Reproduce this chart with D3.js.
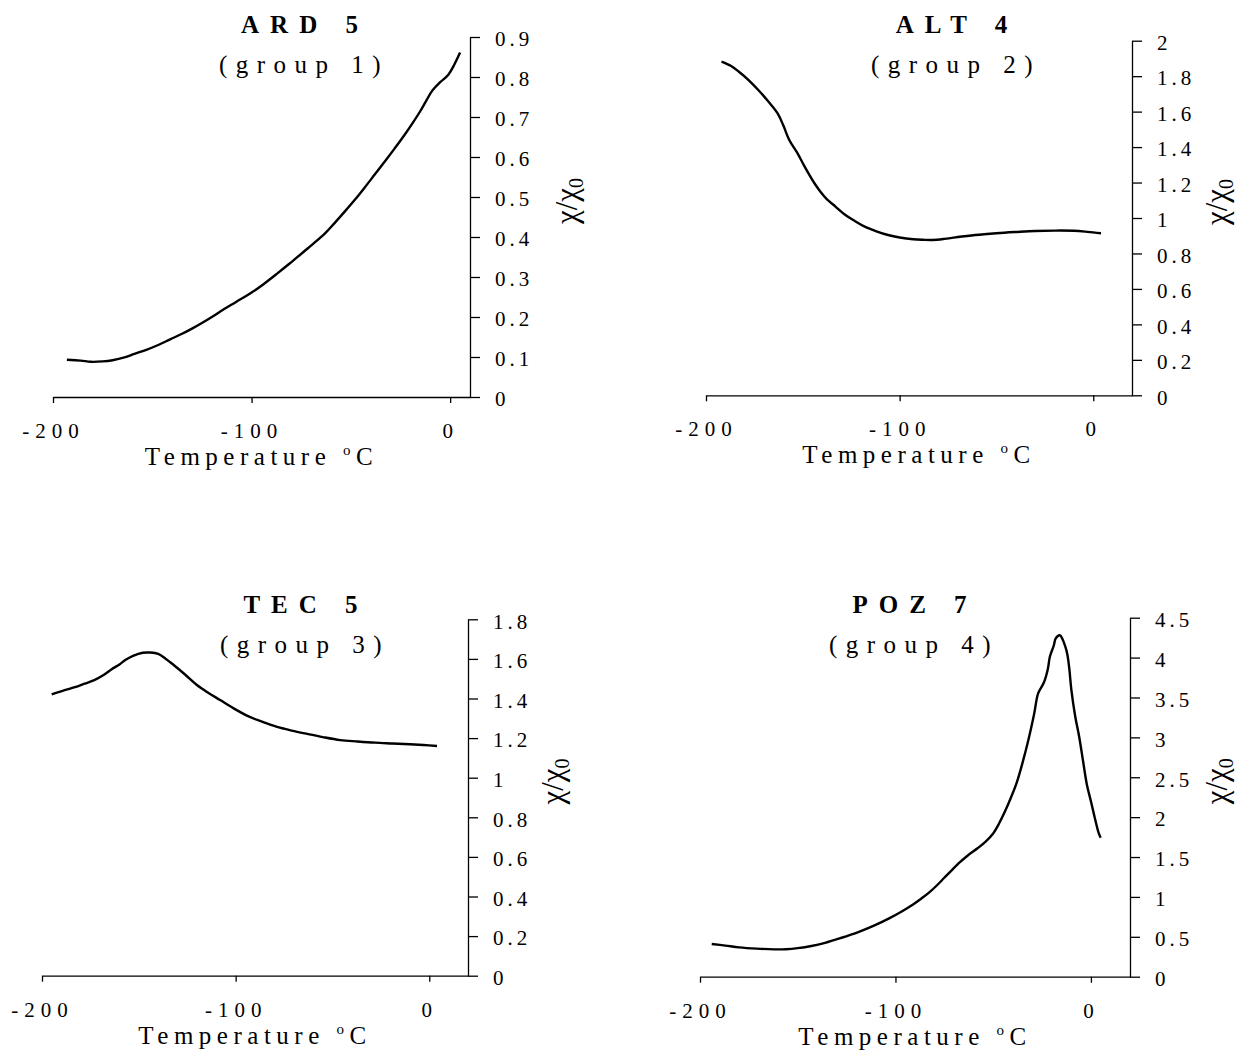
<!DOCTYPE html>
<html>
<head>
<meta charset="utf-8">
<script src="https://cdn.jsdelivr.net/npm/d3@7/dist/d3.min.js"></script>
<style>
  body { margin: 0; background: #fff; }
  svg { display: block; }
  text { font-family: "Liberation Serif", "Times New Roman", serif; fill: #000; }
  .domain, .tick line { stroke: #000; stroke-width: 1.3px; }
  .curve { fill: none; stroke: #000; stroke-width: 2.4px; stroke-linejoin: round; }
</style>
</head>
<body>
<svg id="chart" width="1241" height="1055"></svg>
<script>
// Susceptibility vs temperature curves.
const xTicks = [-200, -100, 0];

// ARD 5 (group 1)
const ard5Temp = [-193, -186, -181, -175, -170, -164, -159, -153, -147, -141, -135, -130, -125, -120, -115, -108, -100, -94, -87, -81, -75, -69, -63, -58, -53, -48, -43, -38, -33, -28, -23, -19, -15, -12, -9, -5, -1, 2, 5];
const ard5Chi  = [0.093, 0.091, 0.088, 0.089, 0.092, 0.099, 0.108, 0.118, 0.13, 0.144, 0.158, 0.171, 0.185, 0.2, 0.216, 0.237, 0.261, 0.282, 0.309, 0.333, 0.358, 0.383, 0.409, 0.436, 0.464, 0.493, 0.524, 0.556, 0.588, 0.621, 0.655, 0.684, 0.715, 0.741, 0.766, 0.787, 0.805, 0.83, 0.861];
const ard5Ticks = [0, 0.1, 0.2, 0.3, 0.4, 0.5, 0.6, 0.7, 0.8, 0.9];

// ALT 4 (group 2)
const alt4Temp = [-192, -187, -183, -178, -173, -168, -163, -160, -157, -153, -150, -147, -144, -141, -138, -133, -128, -123, -118, -112, -106, -100, -93, -88, -83, -77, -71, -61, -50, -40, -30, -20, -10, -3, 4];
const alt4Chi  = [1.882, 1.857, 1.825, 1.778, 1.722, 1.66, 1.59, 1.52, 1.44, 1.37, 1.309, 1.25, 1.196, 1.15, 1.111, 1.063, 1.017, 0.982, 0.951, 0.925, 0.904, 0.89, 0.88, 0.877, 0.876, 0.882, 0.891, 0.904, 0.914, 0.921, 0.927, 0.929, 0.928, 0.922, 0.914];
const alt4Ticks = [0, 0.2, 0.4, 0.6, 0.8, 1, 1.2, 1.4, 1.6, 1.8, 2];

// TEC 5 (group 3)
const tec5Temp = [-195, -189, -183, -178, -173, -168, -164, -160, -157, -153, -148, -144, -140, -136, -132, -126, -120, -114, -108, -101, -93, -86, -79, -71, -63, -55, -46, -37, -28, -19, -10, -3, 4];
const tec5Chi  = [1.421, 1.44, 1.457, 1.475, 1.493, 1.52, 1.548, 1.572, 1.594, 1.615, 1.631, 1.632, 1.625, 1.6, 1.569, 1.52, 1.468, 1.428, 1.392, 1.35, 1.308, 1.282, 1.258, 1.238, 1.221, 1.205, 1.19, 1.183, 1.177, 1.173, 1.169, 1.165, 1.16];
const tec5Ticks = [0, 0.2, 0.4, 0.6, 0.8, 1, 1.2, 1.4, 1.6, 1.8];

// POZ 7 (group 4)
const poz7Temp = [-194, -187, -180, -171, -162, -156, -150, -143, -136, -128, -119, -111, -103, -97, -91, -87, -83, -79, -75, -71, -67, -63, -58, -54, -50, -47, -44, -41, -38, -35, -32, -29, -27, -24, -22, -21, -19, -18, -16, -15, -13, -12, -11, -10, -8, -6, -4, -2, 0, 2, 4, 5];
const poz7Chi  = [0.41, 0.39, 0.368, 0.352, 0.343, 0.345, 0.358, 0.385, 0.425, 0.485, 0.56, 0.64, 0.735, 0.815, 0.905, 0.975, 1.05, 1.14, 1.24, 1.34, 1.435, 1.52, 1.61, 1.69, 1.795, 1.92, 2.07, 2.24, 2.43, 2.68, 2.967, 3.3, 3.552, 3.69, 3.86, 4.011, 4.15, 4.24, 4.28, 4.254, 4.13, 4.032, 3.85, 3.594, 3.259, 3.008, 2.7, 2.4, 2.2, 1.99, 1.8, 1.742];
const poz7Ticks = [0, 0.5, 1, 1.5, 2, 2.5, 3, 3.5, 4, 4.5];

const panels = [
  { title: 'ARD 5', group: '(group 1)', temp: ard5Temp, chi: ard5Chi, yTicks: ard5Ticks, xMax: 10,
    left: 53, right: 470, top: 37, bottom: 397, titleX: 305, titleY: 33, labelX: 577 },
  { title: 'ALT 4', group: '(group 2)', temp: alt4Temp, chi: alt4Chi, yTicks: alt4Ticks, xMax: 20,
    left: 706, right: 1132, top: 40.7, bottom: 395.3, titleX: 957, titleY: 33, labelX: 1227 },
  { title: 'TEC 5', group: '(group 3)', temp: tec5Temp, chi: tec5Chi, yTicks: tec5Ticks, xMax: 20,
    left: 42, right: 468, top: 619.3, bottom: 975.7, titleX: 306, titleY: 613, labelX: 563 },
  { title: 'POZ 7', group: '(group 4)', temp: poz7Temp, chi: poz7Chi, yTicks: poz7Ticks, xMax: 20,
    left: 700, right: 1130, top: 617.7, bottom: 976.7, titleX: 915, titleY: 613, labelX: 1227 }
];

const svg = d3.select('#chart');
// plain hyphen for negatives, as in the original
const fmtX = d => String(d);
const fmtY = d => String(+d.toFixed(1));

panels.forEach(p => {
  const yMax = p.yTicks[p.yTicks.length - 1];
  const x = d3.scaleLinear().domain([-200, p.xMax]).range([p.left, p.right]);
  const y = d3.scaleLinear().domain([0, yMax]).range([p.bottom, p.top]);
  const g = svg.append('g');

  // x axis
  const xa = g.append('g')
    .attr('transform', `translate(0,${p.bottom})`)
    .call(d3.axisBottom(x).tickValues(xTicks).tickSize(6).tickSizeOuter(0).tickFormat(fmtX));
  xa.selectAll('text')
    .attr('y', 41).attr('dy', 0).attr('fill', '#000')
    .style('font-size', '21px').style('letter-spacing', '6px');

  // y axis on the right, ticks pointing outwards
  const ya = g.append('g')
    .attr('transform', `translate(${p.right},0)`)
    .call(d3.axisRight(y).tickValues(p.yTicks).tickSize(10).tickSizeOuter(0).tickPadding(15).tickFormat(fmtY));
  ya.selectAll('text')
    .attr('dy', '0.42em').attr('fill', '#000')
    .style('font-size', '21px').style('letter-spacing', '4px');

  // curve
  const pts = p.temp.map((t, i) => [t, p.chi[i]]);
  g.append('path')
    .datum(pts)
    .attr('class', 'curve')
    .attr('d', d3.line().x(d => x(d[0])).y(d => y(d[1])).curve(d3.curveCatmullRom.alpha(0.5)));

  // titles
  g.append('text')
    .attr('x', p.titleX).attr('y', p.titleY)
    .attr('text-anchor', 'middle')
    .style('font-size', '25px').style('font-weight', 'bold').style('letter-spacing', '11px')
    .text(p.title);
  g.append('text')
    .attr('x', p.titleX - 1).attr('y', p.titleY + 39.5)
    .attr('text-anchor', 'middle')
    .style('font-size', '25px').style('letter-spacing', '8.5px')
    .text(p.group);

  // x axis title
  const xt = g.append('text')
    .attr('x', (p.left + p.right) / 2).attr('y', p.bottom + 68)
    .attr('text-anchor', 'middle')
    .style('font-size', '25px').style('letter-spacing', '5.5px');
  xt.append('tspan').text('Temperature ');
  xt.append('tspan').attr('dy', -10).style('font-size', '15px').text('o');
  xt.append('tspan').attr('dy', 10).text('C');

  // y axis title
  const yt = g.append('text')
    .attr('transform', `translate(${p.labelX},${(p.top + p.bottom) / 2 - 16}) rotate(-90)`)
    .attr('text-anchor', 'middle')
    .style('font-size', '31px');
  yt.append('tspan').text('χ/χ');
  yt.append('tspan').attr('dy', 6).style('font-size', '20px').text('0');
});
</script>
</body>
</html>
